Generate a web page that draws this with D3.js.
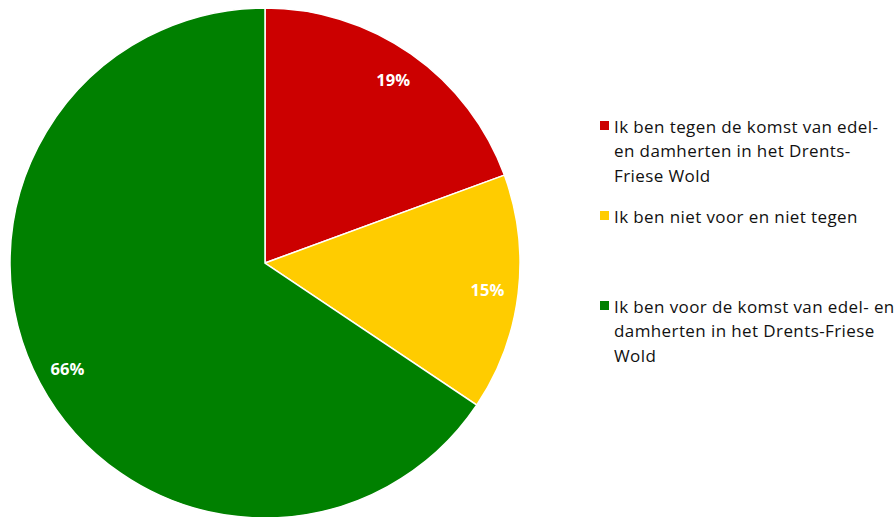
<!DOCTYPE html>
<html><head><meta charset="utf-8">
<script src="https://cdn.jsdelivr.net/npm/d3@7"></script>
<style>body{margin:0;background:#fff}svg{display:block}</style>
</head><body>
<svg id="c" width="896" height="517"></svg>
<script>
const categories = [
  ["Ik ben tegen de komst van edel-", "en damherten in het Drents-", "Friese Wold"],
  ["Ik ben niet voor en niet tegen"],
  ["Ik ben voor de komst van edel- en", "damherten in het Drents-Friese", "Wold"]
];
const values = [19.4, 15.0, 65.6];
const labels = ["19%", "15%", "66%"];
const colors = ["#CC0000", "#FFCC00", "#008000"];

const svg = d3.select("#c");
const cx = 265, cy = 263, r = 255;
const g = svg.append("g").attr("transform", `translate(${cx},${cy})`);
const pie = d3.pie().sort(null).value(d => d)(values);
const arc = d3.arc().innerRadius(0).outerRadius(r);
const labelArc = d3.arc().innerRadius(224).outerRadius(224);
g.selectAll("path").data(pie).join("path")
  .attr("d", arc).attr("fill", (d, i) => colors[i])
  .attr("stroke", "#fff").attr("stroke-width", 1.5);
g.selectAll("text").data(pie).join("text")
  .attr("transform", d => `translate(${labelArc.centroid(d)})`)
  .attr("text-anchor", "middle").attr("dominant-baseline", "central")
  .attr("fill", "#fff").attr("font-family", "Open Sans, sans-serif")
  .attr("font-weight", "bold").attr("font-size", 16.5)
  .text((d, i) => labels[i]);

const legendY = [126, 216, 306];
const lg = svg.append("g");
categories.forEach((lines, i) => {
  lg.append("rect").attr("x", 600).attr("y", legendY[i] - 5).attr("width", 9).attr("height", 9).attr("fill", colors[i]);
  lines.forEach((t, j) => {
    lg.append("text").attr("x", 614).attr("y", legendY[i] + j * 24.5)
      .attr("dominant-baseline", "central")
      .attr("font-family", "Open Sans, sans-serif").attr("font-size", 17)
      .attr("letter-spacing", 0.4)
      .attr("fill", "#111").text(t);
  });
});
</script>
</body></html>
